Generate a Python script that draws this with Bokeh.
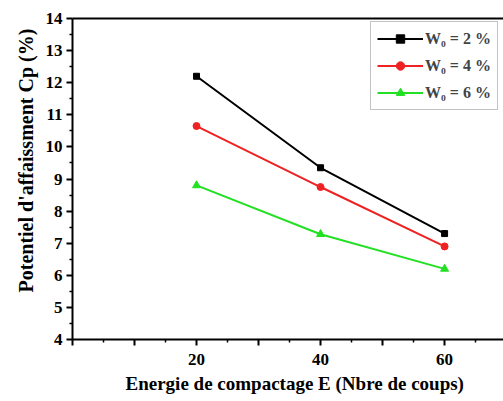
from bokeh.plotting import figure
from bokeh.models import Range1d, FixedTicker, LinearAxis, Legend, Title
from bokeh.embed import file_html
from bokeh.resources import INLINE

energy = [20, 40, 60]
cp_w2 = [12.2, 9.35, 7.3]
cp_w4 = [10.65, 8.75, 6.9]
cp_w6 = [8.8, 7.28, 6.2]
labels = ["W\u2080 = 2 %", "W\u2080 = 4 %", "W\u2080 = 6 %"]
colors = ["black", "#ee2222", "#22e022"]

FONT = "Liberation Serif"

p = figure(width=503, height=400, output_backend="svg", toolbar_location=None,
           x_range=Range1d(0, 69.5), y_range=Range1d(4, 14),
           min_border_left=72, min_border_right=0, min_border_top=18, min_border_bottom=61)
p.outline_line_color = None
p.xgrid.visible = False
p.ygrid.visible = False
p.background_fill_color = "white"

xa = p.xaxis[0]
xa.ticker = FixedTicker(ticks=[0, 10, 20, 30, 40, 50, 60], minor_ticks=[5, 15, 25, 35, 45, 55, 65])
xa.major_label_overrides = {0: "", 10: "", 30: "", 50: ""}
ya = p.yaxis[0]
ya.ticker = FixedTicker(ticks=list(range(4, 15)), minor_ticks=[v + 0.5 for v in range(4, 14)])
for ax in (xa, ya):
    ax.axis_line_width = 2
    ax.axis_line_color = "black"
    ax.major_tick_in = 0
    ax.major_tick_out = 6
    ax.minor_tick_in = 0
    ax.minor_tick_out = 3
    ax.major_tick_line_width = 2
    ax.minor_tick_line_width = 1.5
    ax.major_label_text_font = FONT
    ax.major_label_text_font_style = "bold"
    ax.major_label_text_font_size = "17px"
    ax.major_label_text_color = "black"
xa.major_label_standoff = 8
ya.major_label_standoff = 4

top = LinearAxis(ticker=FixedTicker(ticks=[]), major_label_text_font_size="0px",
                 major_tick_line_color=None, minor_tick_line_color=None,
                 axis_line_width=2, axis_line_color="black")
p.add_layout(top, "above")

items = []
markers = ["square", "circle", "triangle"]
sizes = [6, 7, 8]
for ys, lab, col, mk, sz in zip([cp_w2, cp_w4, cp_w6], labels, colors, markers, sizes):
    r1 = p.line(energy, ys, line_color=col, line_width=2)
    r2 = p.scatter(energy, ys, marker=mk, size=sz, fill_color=col, line_color=col)
    items.append((lab, [r1, r2]))

leg = Legend(items=items, location=(298, 229))
leg.label_text_font = FONT
leg.label_text_font_style = "bold"
leg.label_text_font_size = "16px"
leg.glyph_width = 46
leg.glyph_height = 21
leg.label_height = 21
leg.spacing = 6
leg.padding = 6
leg.margin = 0
leg.label_standoff = 2
leg.border_line_color = "#888888"
leg.border_line_width = 1
p.add_layout(leg, "center")

xt = Title(text="Energie de compactage E  (Nbre de coups)", align="left", offset=53,
           text_font=FONT, text_font_style="bold", text_font_size="19px",
           text_color="black", standoff=6)
p.add_layout(xt, "below")

yt = Title(text="Potentiel d'affaissment Cp (%)", align="left", offset=47,
           text_font=FONT, text_font_style="bold", text_font_size="20px",
           text_color="black", standoff=11)
p.add_layout(yt, "left")

open("out.html", "w").write(file_html(p, INLINE))
